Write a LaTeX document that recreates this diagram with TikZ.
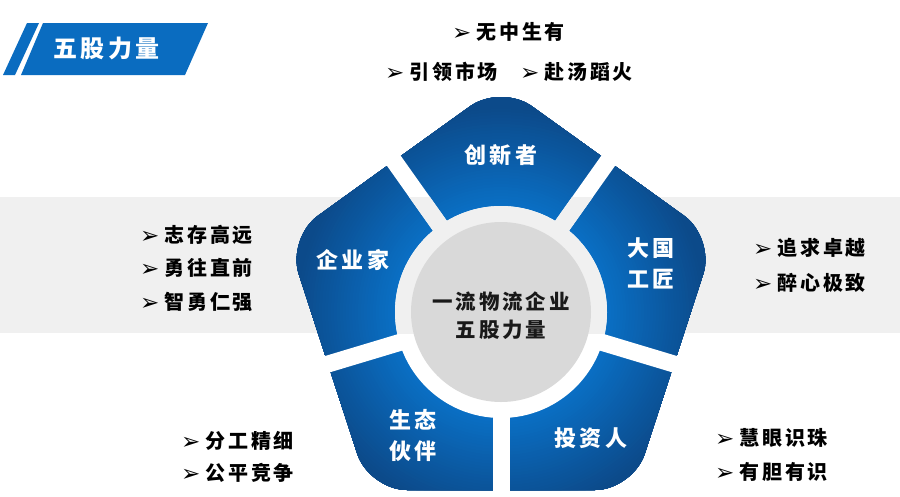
\documentclass[tikz,border=0pt]{standalone}
\usepackage{fontspec}
\usetikzlibrary{calc}
\newfontfamily\cjk[LetterSpace=14]{Noto Sans CJK SC}
\newfontfamily\arrowfont{DejaVu Sans}
\definecolor{bandgray}{HTML}{F0F0F0}
\definecolor{ringgray}{HTML}{D9D9D9}
\definecolor{titleblue}{HTML}{0A6CC0}
\definecolor{seglight}{HTML}{0A6FC4}
\definecolor{segdark}{HTML}{0C4A8A}
\newcommand{\bl}[1]{\raisebox{-1pt}{\arrowfont\fontsize{23pt}{23pt}\selectfont ➢}\hspace{5pt}#1}
\begin{document}
\begin{tikzpicture}[x=1pt,y=-1pt,
  bul/.style={anchor=west, font=\cjk\bfseries\fontsize{20pt}{24pt}\selectfont, text=black, inner sep=0pt},
  seglabel/.style={font=\cjk\bfseries\fontsize{22pt}{31pt}\selectfont, text=white, align=center, inner sep=0pt},
  centerlabel/.style={font=\cjk\bfseries\fontsize{20.5pt}{28pt}\selectfont, text=black!90, align=center, inner sep=0pt},
  titlelabel/.style={font=\cjk\bfseries\fontsize{24pt}{28pt}\selectfont, inner sep=0pt},
  gap/.style={line width=17pt}]
\useasboundingbox (0,0) rectangle (900,496);
\fill[white] (0,0) rectangle (900,496);
\fill[bandgray] (0,197) rectangle (900,333);

% title banner
\fill[titleblue] (27,23) -- (39,23) -- (15,75) -- (3,75) -- cycle;
\fill[titleblue] (43,23) -- (208,23) -- (185,75) -- (21,75) -- cycle;
\node[titlelabel, text=white] (title) at (106.5,48) {五股力量};

% pentagon geometry
\coordinate (C) at (501,312);
\coordinate (T) at (501,84);
\coordinate (L) at (287,238);
\coordinate (R) at (715,238);
\coordinate (BL) at (369,490);
\coordinate (BR) at (633,490);
\coordinate (M1) at ($(T)!0.5!(L)$);
\coordinate (M2) at ($(L)!0.5!(BL)$);
\coordinate (M3) at ($(BL)!0.5!(BR)$);
\coordinate (M4) at ($(BR)!0.5!(R)$);
\coordinate (M5) at ($(R)!0.5!(T)$);

\begin{scope}
  \clip[rounded corners=38pt] (T) -- (R) -- (BR) -- (BL) -- (L) -- cycle;
  \foreach \r in {236,233,...,103}{
    \pgfmathsetmacro\p{max(0,min(100,(\r-108)/(205-108)*100))}
    \fill[segdark!\p!seglight] (C) circle (\r);
  }
\end{scope}

% gaps and ring (background showing through)
\foreach \m in {M1,M2,M3,M4,M5}
  \draw[white, gap] (C) -- ($(C)!1.25!(\m)$);
\fill[white] (C) circle (106);
\begin{scope}
  \clip (0,197) rectangle (900,333);
  \foreach \m in {M1,M2,M3,M4,M5}
    \draw[bandgray, gap] (C) -- ($(C)!1.25!(\m)$);
  \fill[bandgray] (C) circle (106);
\end{scope}
\fill[ringgray] (C) circle (90);

% labels
\node[centerlabel] (center) at (501,316) {一流物流企业\\五股力量};
\node[seglabel] (inno) at (501,155) {创新者};
\node[seglabel] (entre) at (353,260) {企业家};
\node[seglabel] (craft) at (651,263) {大国\\工匠};
\node[seglabel] (eco) at (413,436) {生态\\伙伴};
\node[seglabel] (inv) at (591,438) {投资人};

% bullets
\node[bul] (b1) at (452,32) {\bl{无中生有}};
\node[bul] (b2) at (385,72) {\bl{引领市场}};
\node[bul] (b3) at (520,72) {\bl{赴汤蹈火}};
\node[bul] (b4) at (140,235) {\bl{志存高远}};
\node[bul] (b5) at (140,268) {\bl{勇往直前}};
\node[bul] (b6) at (140,302) {\bl{智勇仁强}};
\node[bul] (b7) at (753,248) {\bl{追求卓越}};
\node[bul] (b8) at (753,283) {\bl{醉心极致}};
\node[bul] (b9) at (181,441) {\bl{分工精细}};
\node[bul] (b10) at (181,473) {\bl{公平竞争}};
\node[bul] (b11) at (715,438) {\bl{慧眼识珠}};
\node[bul] (b12) at (715,472) {\bl{有胆有识}};
\end{tikzpicture}
\end{document}
